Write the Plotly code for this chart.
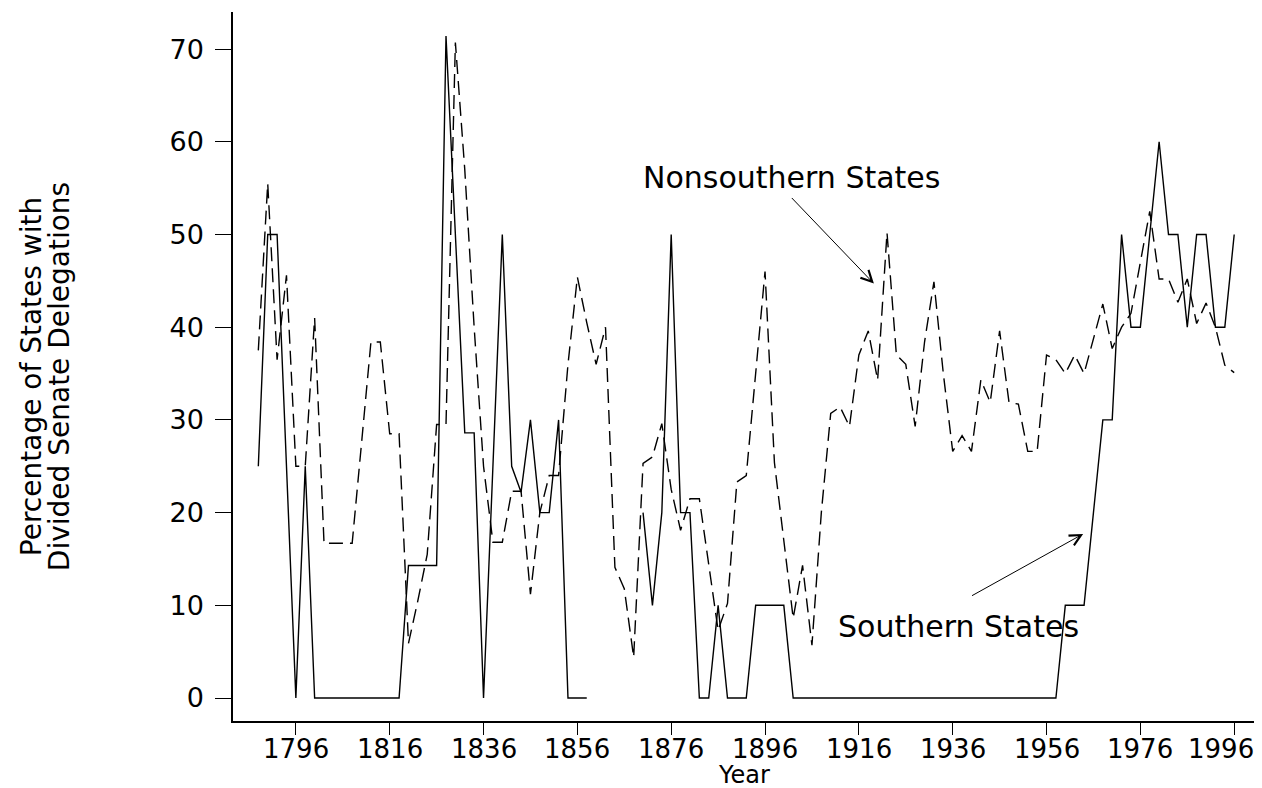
import plotly.graph_objects as go

years = list(range(1788, 1998, 2))

southern = [
    25, 50, 50, 25, 0, 25, 0, 0, 0, 0,          # 1788-1806
    0, 0, 0, 0, 0, 0, 14.3, 14.3, 14.3, 14.3,  # 1808-1826
    71.4, 50, 28.6, 28.6, 0, 25, 50, 25, 22.2, 30,  # 1828-1846
    20, 20, 30, 0, 0, 0, None, None, None, None,    # 1848-1866
    None, 20, 10, 20, 50, 20, 20, 0, 0, 10,     # 1868-1886
    0, 0, 0, 10, 10, 10, 10, 0, 0, 0,           # 1888-1906
    0, 0, 0, 0, 0, 0, 0, 0, 0, 0,               # 1908-1926
    0, 0, 0, 0, 0, 0, 0, 0, 0, 0,               # 1928-1946
    0, 0, 0, 0, 0, 0, 10, 10, 10, 20,           # 1948-1966
    30, 30, 50, 40, 40, 50, 60, 50, 50, 40,     # 1968-1986
    50, 50, 40, 40, 50                          # 1988-1996
]

nonsouthern = [
    37.5, 55.5, 36.5, 45.6, 25, 25, 41, 16.7, 16.7, 16.7,      # 1788-1806
    16.7, 27.5, 38.4, 38.4, 28.5, 28.5, 5.9, 10.5, 15.5, 29.5, # 1808-1826
    29.5, 70.7, 57, 40, 25, 16.8, 16.8, 22.3, 22.3, 11.2,      # 1828-1846
    20, 24, 24, 36, 45.4, 40.5, 36, 40, 14.1, 11.8,            # 1848-1866
    4.4, 25.3, 26, 29.6, 22.5, 18.1, 21.5, 21.5, 14.2, 7.3,    # 1868-1886
    10.2, 23.3, 24, 35, 46, 25.4, 16.8, 8.6, 14.3, 5.7,        # 1888-1906
    20, 30.7, 31.4, 29.3, 37, 39.6, 34.3, 50.2, 37, 36,        # 1908-1926
    29.3, 38.4, 44.9, 35, 26.6, 28.3, 26.6, 34.3, 31.9, 39.6,  # 1928-1946
    31.9, 31.7, 26.6, 26.6, 37, 36.5, 35, 37, 35, 38.7,        # 1948-1966
    42.5, 37.7, 40, 41.5, 47, 52.5, 45.2, 45.2, 42.7, 45.2,    # 1968-1986
    40.4, 42.6, 40, 35.9, 35.1                                 # 1988-1996
]

x_ticks = [1796, 1816, 1836, 1856, 1876, 1896, 1916, 1936, 1956, 1976, 1996]
x_tick_labels = ["1796", "1816", "1836", "1856", "1876", "1896", "1916", "1936", "1956", "1976", "1996"]
y_ticks = [0, 10, 20, 30, 40, 50, 60, 70]

FONT = "DejaVu Sans"
X_RANGE = [1782.6, 2001.5]

fig = go.Figure()
fig.add_trace(go.Scatter(
    x=years, y=nonsouthern, mode="lines", name="Nonsouthern States",
    line=dict(color="black", width=1.4, dash="14px,7px"),
    connectgaps=False,
))
fig.add_trace(go.Scatter(
    x=years, y=southern, mode="lines", name="Southern States",
    line=dict(color="black", width=1.4),
    connectgaps=False,
))

# the page body adds an 8px offset, so the figure is 8px smaller
fig.update_layout(
    width=1254, height=780,
    margin=dict(l=225, r=2, t=4, b=67, autoexpand=False),
    paper_bgcolor="white", plot_bgcolor="white",
    showlegend=False,
    font=dict(family=FONT, color="black", size=27),
)

fig.update_xaxes(
    range=X_RANGE,
    tickmode="array", tickvals=x_ticks, showticklabels=False,
    ticks="outside", ticklen=12, tickwidth=1, tickcolor="black",
    showline=True, linecolor="black", linewidth=1.5,
    showgrid=False, zeroline=False, automargin=False,
)
fig.update_yaxes(
    range=[-2.48, 74.0],
    tickmode="array", tickvals=y_ticks, ticktext=[str(v) for v in y_ticks],
    ticks="outside", ticklen=16, tickwidth=1, tickcolor="black",
    showline=True, linecolor="black", linewidth=1.5,
    showgrid=False, zeroline=False, automargin=False,
    tickfont=dict(family=FONT, size=27),
    ticklabelstandoff=6,
)

# x tick labels (the last one is nudged left to stay inside the page, as in the original)
for v, lab in zip(x_ticks, x_tick_labels):
    shift = -13 if v == x_ticks[-1] else 0
    fig.add_annotation(
        text=lab, x=v, xref="x", y=-0.0395, yref="paper",
        xshift=shift, showarrow=False, font=dict(family=FONT, size=26),
        xanchor="center", yanchor="middle",
    )

# x axis title
fig.add_annotation(
    text="Year", x=(744 - 233) / 1027, xref="paper", y=-0.0755, yref="paper",
    showarrow=False, font=dict(family=FONT, size=24),
    xanchor="center", yanchor="middle",
)

# Y-axis title (two lines, placed separately)
fig.add_annotation(
    text="Percentage of States with",
    xref="paper", yref="paper", x=(31 - 233) / 1027, y=0.485,
    showarrow=False, textangle=-90, font=dict(family=FONT, size=28),
    xanchor="center", yanchor="middle",
)
fig.add_annotation(
    text="Divided Senate Delegations",
    xref="paper", yref="paper", x=(59 - 233) / 1027, y=0.485,
    showarrow=False, textangle=-90, font=dict(family=FONT, size=28),
    xanchor="center", yanchor="middle",
)

# Labels with arrows
fig.add_annotation(
    text="Nonsouthern States", x=1901.6, y=56.2, xref="x", yref="y",
    showarrow=False, font=dict(family=FONT, size=30),
    xanchor="center", yanchor="middle",
)
fig.add_annotation(
    text="", x=1919.2, y=44.7, ax=1901.4, ay=54.1,
    xref="x", yref="y", axref="x", ayref="y",
    showarrow=True, arrowhead=5, arrowsize=2.2, arrowwidth=1, arrowcolor="black",
)
fig.add_annotation(
    text="Southern States", x=1937.2, y=7.7, xref="x", yref="y",
    showarrow=False, font=dict(family=FONT, size=30),
    xanchor="center", yanchor="middle",
)
fig.add_annotation(
    text="", x=1963.8, y=17.7, ax=1939.8, ay=10.95,
    xref="x", yref="y", axref="x", ayref="y",
    showarrow=True, arrowhead=5, arrowsize=2.2, arrowwidth=1, arrowcolor="black",
)

fig.write_html("out.html")
